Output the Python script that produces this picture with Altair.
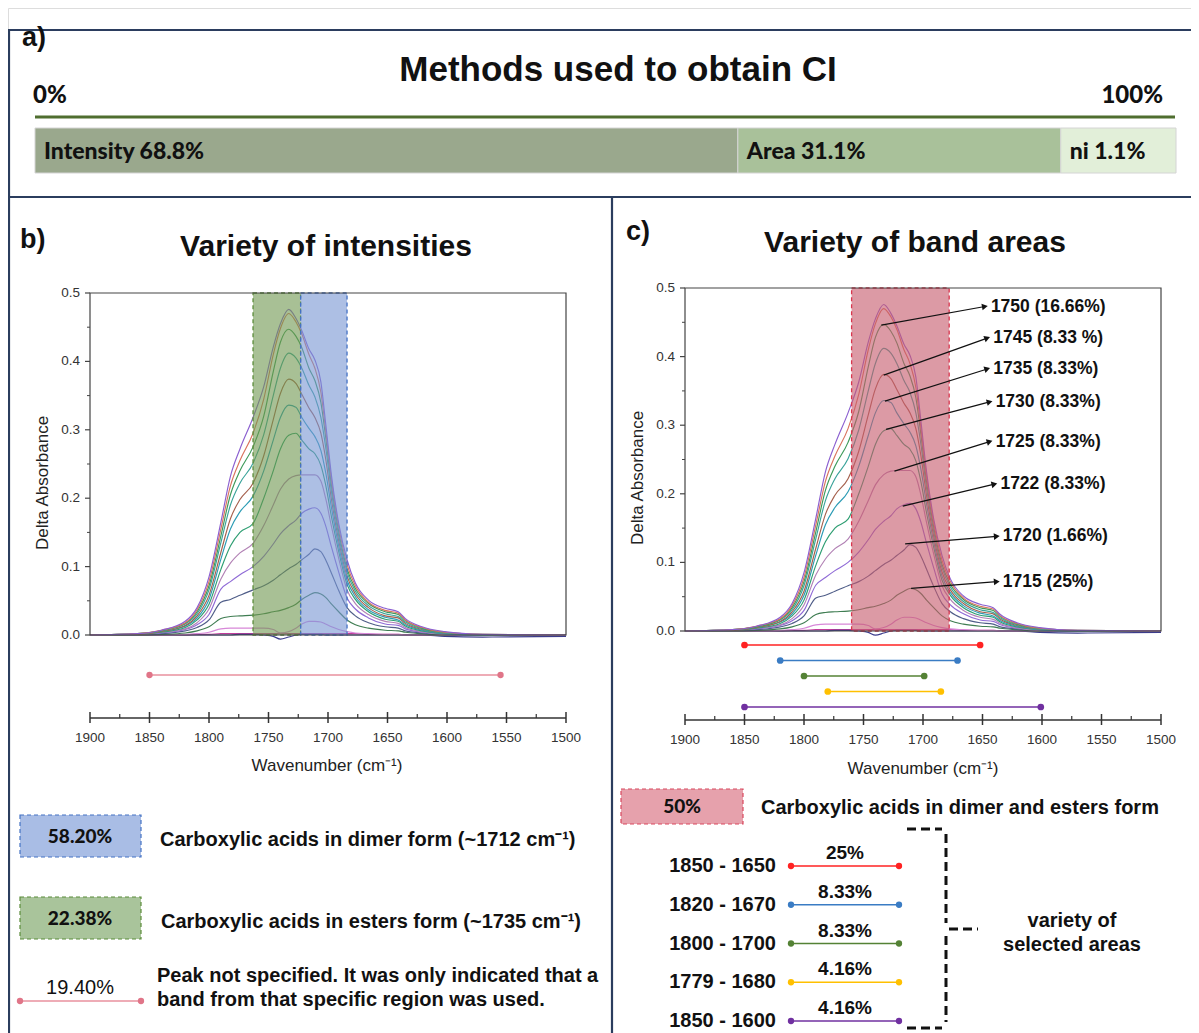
import math
import altair as alt
import pandas as pd

# ---------------- data ----------------
# panel a: methods used to obtain CI
methods = ["Intensity", "Area", "ni"]
method_labels = ["Intensity 68.8%", "Area 31.1%", "ni 1.1%"]
method_share_drawn = [61.6, 28.3, 10.1]          # segment widths as drawn in the picture
method_colors = ["#9AA88D", "#A9C19A", "#E2EFD9"]

# spectra (Delta absorbance vs wavenumber)
wavenumbers = [1900, 1860, 1840, 1820, 1810, 1800, 1790, 1782, 1774, 1763, 1754, 1746, 1740, 1733, 1727, 1722,
               1716, 1711, 1706, 1702, 1697, 1691, 1684, 1677, 1666, 1652, 1641, 1635, 1621, 1602, 1570, 1500]
spec_01 = [0, .002, .007, .020, .040, .085, .165, .232, .272, .318, .363, .421, .455, .476, .463, .445,
           .418, .402, .370, .310, .232, .163, .110, .076, .051, .039, .034, .024, .012, .005, .001, 0]
spec_02 = [0, .002, .007, .018, .037, .078, .155, .218, .255, .295, .345, .410, .448, .470, .458, .440,
           .410, .390, .355, .300, .225, .158, .103, .072, .048, .036, .032, .022, .011, .004, .001, 0]
spec_03 = [0, .002, .006, .017, .034, .072, .145, .205, .240, .275, .320, .385, .428, .447, .437, .420,
           .390, .372, .340, .290, .218, .152, .097, .068, .046, .034, .030, .021, .010, .004, .001, 0]
spec_04 = [0, .002, .006, .016, .031, .066, .135, .190, .222, .251, .293, .350, .390, .412, .405, .390,
           .365, .348, .318, .275, .208, .145, .092, .064, .043, .031, .027, .019, .009, .003, 0, 0]
spec_05 = [0, .001, .005, .014, .028, .058, .121, .170, .198, .222, .262, .315, .353, .374, .368, .352,
           .332, .318, .295, .258, .197, .138, .086, .060, .040, .028, .025, .017, .008, .003, 0, 0]
spec_06 = [0, .001, .005, .013, .025, .052, .111, .155, .180, .203, .240, .285, .318, .336, .333, .318,
           .302, .290, .270, .238, .185, .130, .080, .056, .037, .026, .022, .015, .007, .002, 0, 0]
spec_07 = [0, .001, .004, .011, .022, .045, .096, .130, .150, .163, .200, .240, .272, .292, .295, .285,
           .272, .265, .248, .220, .172, .122, .074, .052, .034, .023, .020, .013, .006, .002, 0, 0]
spec_08 = [0, .001, .004, .009, .018, .038, .082, .105, .120, .134, .160, .190, .213, .228, .233, .234,
           .234, .234, .225, .200, .158, .112, .066, .046, .030, .020, .017, .011, .005, .001, 0, 0]
spec_09 = [0, .001, .003, .008, .015, .030, .067, .078, .088, .100, .115, .133, .148, .160, .168, .178,
           .184, .186, .178, .160, .128, .092, .054, .038, .025, .016, .014, .009, .004, .001, 0, 0]
spec_10 = [0, .001, .002, .006, .011, .022, .048, .052, .058, .066, .072, .080, .088, .097, .103, .110,
           .118, .126, .122, .110, .090, .065, .040, .028, .018, .012, .010, .006, .003, .001, 0, 0]
spec_11 = [0, 0, .001, .003, .006, .012, .024, .027, .028, .029, .031, .034, .036, .040, .045, .052,
           .058, .062, .060, .055, .045, .034, .022, .015, .010, .007, .006, .004, .002, 0, 0, 0]
spec_12 = [0, 0, 0, .001, .002, .004, .009, .010, .010, .010, .010, .008, .003, .005, .010, .016,
           .020, .020, .019, .016, .012, .008, .005, .003, .002, .001, .001, 0, 0, 0, 0, 0]
spec_13 = [0, 0, 0, 0, 0, 0, 0, 0, .001, .001, 0, -.002, -.006, -.003, 0, .001,
           .001, .001, .001, 0, 0, 0, 0, 0, 0, 0, 0, 0, 0, -.002, -.003, -.002]
spec_14 = [0, 0, 0, 0, .001, .001, .002, .002, .002, .002, .002, .002, .002, .002, .002, .002,
           .002, .002, .002, .002, .002, .002, .002, .002, .001, .001, .001, 0, 0, 0, 0, 0]
spectra_values = [spec_01, spec_02, spec_03, spec_04, spec_05, spec_06, spec_07,
                  spec_08, spec_09, spec_10, spec_11, spec_12, spec_13, spec_14]
spectra_colors = ["#8B5FD0", "#D9735E", "#3E9A5A", "#3AA39A", "#A5604D", "#2C9CB5", "#2E9E72",
                  "#B282B5", "#8F6AD6", "#4F5D88", "#3F7D52", "#D787D8", "#3C3C8C", "#C23C9C"]

# panel b: highlighted bands
b_band_start = [1763, 1723]
b_band_end = [1723, 1684]
b_band_fill = ["#6E964F", "#7695D2"]
b_band_stroke = ["#5B8C3A", "#4472C4"]
b_range_start = [1850]
b_range_end = [1555]

# panel c: highlighted band, ranges, annotations
c_band_start = [1760]
c_band_end = [1678]
range_start = [1850, 1820, 1800, 1780, 1850]
range_end = [1652, 1671, 1699, 1685, 1601]
range_colors = ["#FF2222", "#3A7CC4", "#548235", "#FFC000", "#7030A0"]
range_labels = ["1850 - 1650", "1820 - 1670", "1800 - 1700", "1779 - 1680", "1850 - 1600"]
range_pcts = ["25%", "8.33%", "8.33%", "4.16%", "4.16%"]

arrow_w0 = [1735, 1733, 1732, 1731, 1724, 1717, 1715, 1710]
arrow_a0 = [0.446, 0.373, 0.335, 0.294, 0.233, 0.182, 0.127, 0.062]
arrow_w1 = [1648, 1646, 1646, 1644, 1644, 1640, 1638, 1638]
arrow_a1 = [0.473, 0.427, 0.382, 0.334, 0.276, 0.214, 0.138, 0.072]
arrow_labels = ["1750 (16.66%)", "1745 (8.33 %)", "1735 (8.33%)", "1730 (8.33%)",
                "1725 (8.33%)", "1722 (8.33%)", "1720 (1.66%)", "1715 (25%)"]

y_major = [0.0, 0.1, 0.2, 0.3, 0.4, 0.5]
y_minor = [0.05, 0.15, 0.25, 0.35, 0.45]
x_major = [1900, 1850, 1800, 1750, 1700, 1650, 1600, 1550, 1500]
x_minor = [1875, 1825, 1775, 1725, 1675, 1625, 1575, 1525]

FONT = "Liberation Sans"
CAL = "Lato"
CALW = 900
NAVY = "#2B3D5E"
W, H = 1183, 1025

# ---------------- helpers ----------------
def px(field):
    return alt.X(field, scale=None, axis=None)

def py(field):
    return alt.Y(field, scale=None, axis=None)

def texts(rows, size, weight="bold", align="left", font=FONT, color="#111", angle=0):
    df = pd.DataFrame(rows, columns=["px", "py", "txt"])
    return alt.Chart(df).mark_text(fontSize=size, fontWeight=weight, align=align, baseline="middle",
                                   font=font, color=color, angle=angle).encode(
        x=px("px:Q"), y=py("py:Q"), text="txt:N")

def segs(rows, color, width, dash=None):
    df = pd.DataFrame(rows, columns=["x1", "y1", "x2", "y2"])
    kw = dict(color=color, strokeWidth=width)
    if dash:
        kw["strokeDash"] = dash
    return alt.Chart(df).mark_rule(**kw).encode(x=px("x1:Q"), y=py("y1:Q"), x2="x2:Q", y2="y2:Q")

def boxes(rows, fill, stroke, dash):
    df = pd.DataFrame(rows, columns=["x1", "y1", "x2", "y2"])
    return alt.Chart(df).mark_rect(fill=fill, stroke=stroke, strokeWidth=1.2, strokeDash=dash).encode(
        x=px("x1:Q"), y=py("y1:Q"), x2="x2:Q", y2="y2:Q")

def xsc(p):
    return alt.Scale(domain=[1900, 1500], range=[p["x0"], p["x1"]], nice=False, zero=False)

def ysc(p):
    return alt.Scale(domain=[0, 0.5], range=[p["y0"], p["y1"]], nice=False, zero=False)

PB = dict(x0=82, x1=558, y0=627, y1=285, axis_y=710, lab_x=72, title_x=319, title_y=758, ytitle_x=35, ytitle_y=475)
PC = dict(x0=677, x1=1153, y0=623, y1=280, axis_y=712, lab_x=667, title_x=915, title_y=761, ytitle_x=630, ytitle_y=470)

rows = []
n = len(spectra_values)
for i in reversed(range(n)):
    for w, a in zip(wavenumbers, spectra_values[i]):
        rows.append({"w": w, "a": a, "curve": f"k{n - 1 - i:02d}", "color": spectra_colors[i]})
spec_df = pd.DataFrame(rows)

def spectrum_plot(p):
    layers = []
    layers.append(alt.Chart(spec_df).mark_line(strokeWidth=1.15, interpolate="monotone").encode(
        x=alt.X("w:Q", scale=xsc(p), axis=None),
        y=alt.Y("a:Q", scale=ysc(p), axis=None),
        detail="curve:N",
        order=alt.Order("w:Q", sort="descending"),
        color=alt.Color("color:N", scale=None)))
    frame = pd.DataFrame({"w0": [1900], "w1": [1500], "a0": [0.0], "a1": [0.5]})
    layers.append(alt.Chart(frame).mark_rect(fillOpacity=0, stroke="#444", strokeWidth=1.2).encode(
        x=alt.X("w0:Q", scale=xsc(p), axis=None), x2="w1:Q",
        y=alt.Y("a0:Q", scale=ysc(p), axis=None), y2="a1:Q"))
    ymaj = pd.DataFrame({"v": y_major, "lab": [f"{v:.1f}" for v in y_major]})
    ymin = pd.DataFrame({"v": y_minor})
    layers.append(alt.Chart(ymaj).mark_rule(color="#444", strokeWidth=1.2).encode(
        y=alt.Y("v:Q", scale=ysc(p), axis=None), x=alt.value(p["x0"] - 5), x2=alt.value(p["x0"])))
    layers.append(alt.Chart(ymin).mark_rule(color="#444", strokeWidth=1).encode(
        y=alt.Y("v:Q", scale=ysc(p), axis=None), x=alt.value(p["x0"] - 3), x2=alt.value(p["x0"])))
    layers.append(alt.Chart(ymaj).mark_text(fontSize=13.5, font=FONT, color="#333", align="right",
                                            baseline="middle").encode(
        y=alt.Y("v:Q", scale=ysc(p), axis=None), x=alt.value(p["lab_x"]), text="lab:N"))
    # detached x axis
    axis_df = pd.DataFrame({"w0": [1900], "w1": [1500]})
    layers.append(alt.Chart(axis_df).mark_rule(color="#333", strokeWidth=1.5).encode(
        x=alt.X("w0:Q", scale=xsc(p), axis=None), x2="w1:Q", y=alt.value(p["axis_y"])))
    xmaj = pd.DataFrame({"w": x_major, "lab": [str(v) for v in x_major]})
    xmin = pd.DataFrame({"w": x_minor})
    layers.append(alt.Chart(xmaj).mark_rule(color="#333", strokeWidth=1.5).encode(
        x=alt.X("w:Q", scale=xsc(p), axis=None), y=alt.value(p["axis_y"] - 6), y2=alt.value(p["axis_y"] + 5)))
    layers.append(alt.Chart(xmin).mark_rule(color="#333", strokeWidth=1.2).encode(
        x=alt.X("w:Q", scale=xsc(p), axis=None), y=alt.value(p["axis_y"] - 4), y2=alt.value(p["axis_y"])))
    layers.append(alt.Chart(xmaj).mark_text(fontSize=13.5, font=FONT, color="#333", baseline="middle").encode(
        x=alt.X("w:Q", scale=xsc(p), axis=None), y=alt.value(p["axis_y"] + 20), text="lab:N"))
    layers.append(texts([(p["title_x"], p["title_y"], "Wavenumber (cm\u207b\u00b9)")], 17, weight="normal",
                        align="center", color="#222"))
    layers.append(texts([(p["ytitle_x"], p["ytitle_y"], "Delta Absorbance")], 17, weight="normal",
                        align="center", color="#222", angle=270))
    return layers

layers = []

# ---------------- panel frames ----------------
layers.append(segs([(0, 22, W, 22), (1, 22, 1, H), (0, 189, W, 189), (604, 189, 604, H)], NAVY, 2.2))

# ---------------- panel a ----------------
bar_df = pd.DataFrame({"method": methods, "label": method_labels, "share": method_share_drawn,
                       "color": method_colors})
bar_df["end"] = bar_df["share"].cumsum()
bar_df["start"] = bar_df["end"] - bar_df["share"]
xa = alt.Scale(domain=[0, 100], range=[27, 1168], nice=False, zero=False)
layers.append(alt.Chart(bar_df).mark_rect(stroke="#D4D4D4", strokeWidth=1).encode(
    x=alt.X("start:Q", scale=xa, axis=None), x2="end:Q",
    y=alt.value(120), y2=alt.value(165), color=alt.Color("color:N", scale=None)))
layers.append(alt.Chart(bar_df).mark_text(align="left", baseline="middle", dx=9, font=CAL, fontSize=23,
                                          fontWeight=CALW, color="#111").encode(
    x=alt.X("start:Q", scale=xa, axis=None), y=alt.value(144), text="label:N"))
layers.append(segs([(27, 109, 1167, 109)], "#4F6E2F", 3.2))
layers.append(texts([(14, 30, "a)")], 27))
layers.append(texts([(610, 62, "Methods used to obtain CI")], 35, align="center"))
layers.append(texts([(25, 88, "0%")], 24, font=CAL, weight=CALW))
layers.append(texts([(1155, 88, "100%")], 24, font=CAL, align="right", weight=CALW))

# ---------------- panel b ----------------
layers.append(texts([(12, 232, "b)")], 27))
layers.append(texts([(318, 239, "Variety of intensities")], 30, align="center"))
spec_b = spectrum_plot(PB)
layers.append(spec_b[0])
band_b = pd.DataFrame({"w0": b_band_start, "w1": b_band_end, "a0": [0.0, 0.0], "a1": [0.5, 0.5],
                       "fill": b_band_fill, "stroke": b_band_stroke})
layers.append(alt.Chart(band_b).mark_rect(fillOpacity=0.6, strokeDash=[4, 3], strokeWidth=1.3).encode(
    x=alt.X("w0:Q", scale=xsc(PB), axis=None), x2="w1:Q",
    y=alt.Y("a0:Q", scale=ysc(PB), axis=None), y2="a1:Q",
    color=alt.Color("fill:N", scale=None), stroke=alt.Stroke("stroke:N", scale=None)))
layers.extend(spec_b[1:])
rng_b = pd.DataFrame({"w0": b_range_start, "w1": b_range_end})
layers.append(alt.Chart(rng_b).mark_rule(color="#E8909E", strokeWidth=1.5).encode(
    x=alt.X("w0:Q", scale=xsc(PB), axis=None), x2="w1:Q", y=alt.value(667)))
for f in ["w0", "w1"]:
    layers.append(alt.Chart(rng_b).mark_circle(color="#E07588", size=40, opacity=1).encode(
        x=alt.X(f"{f}:Q", scale=xsc(PB), axis=None), y=alt.value(667)))

# legend b
layers.append(boxes([(12, 807, 133, 849)], "#A9BDE5", "#4472C4", [4, 3]))
layers.append(boxes([(12, 889, 133, 931)], "#A9C49B", "#5B8C3A", [4, 3]))
layers.append(texts([(72, 829, "58.20%"), (72, 911, "22.38%")], 19, font=CAL, align="center", weight=CALW))
layers.append(texts([(72, 980, "19.40%")], 20, weight="normal", align="center"))
layers.append(segs([(12, 993, 133, 993)], "#E8909E", 1.5))
layers.append(alt.Chart(pd.DataFrame({"x": [12, 133], "y": [993, 993]})).mark_circle(
    color="#E07588", size=40, opacity=1).encode(x=px("x:Q"), y=py("y:Q")))
layers.append(texts([(152, 832, "Carboxylic acids in dimer form (~1712 cm\u207b\u00b9)"),
                     (153, 914, "Carboxylic acids in esters form (~1735 cm\u207b\u00b9)"),
                     (149, 968, "Peak not specified. It was only indicated that a"),
                     (149, 992, "band from that specific region was used.")], 20))

# ---------------- panel c ----------------
layers.append(texts([(618, 224, "c)")], 27))
layers.append(texts([(907, 235, "Variety of band areas")], 30, align="center"))
spec_c = spectrum_plot(PC)
layers.append(spec_c[0])
band_c = pd.DataFrame({"w0": c_band_start, "w1": c_band_end, "a0": [0.0], "a1": [0.5]})
layers.append(alt.Chart(band_c).mark_rect(fill="#C65C6D", fillOpacity=0.62, stroke="#D9364E",
                                          strokeDash=[4, 3], strokeWidth=1.3).encode(
    x=alt.X("w0:Q", scale=xsc(PC), axis=None), x2="w1:Q",
    y=alt.Y("a0:Q", scale=ysc(PC), axis=None), y2="a1:Q"))
layers.extend(spec_c[1:])

rng_df = pd.DataFrame({"row": list(range(5)), "w0": range_start, "w1": range_end, "color": range_colors,
                       "label": range_labels, "pct": range_pcts})
yrow_c = alt.Scale(domain=[0, 4], range=[637, 699], nice=False, zero=False)
layers.append(alt.Chart(rng_df).mark_rule(strokeWidth=1.5).encode(
    x=alt.X("w0:Q", scale=xsc(PC), axis=None), x2="w1:Q",
    y=alt.Y("row:Q", scale=yrow_c, axis=None), color=alt.Color("color:N", scale=None)))
for f in ["w0", "w1"]:
    layers.append(alt.Chart(rng_df).mark_circle(size=45, opacity=1).encode(
        x=alt.X(f"{f}:Q", scale=xsc(PC), axis=None),
        y=alt.Y("row:Q", scale=yrow_c, axis=None), color=alt.Color("color:N", scale=None)))

# arrows
arr = pd.DataFrame({"w0": arrow_w0, "a0": arrow_a0, "w1": arrow_w1, "a1": arrow_a1, "label": arrow_labels})
sx = (PC["x1"] - PC["x0"]) / 400.0
sy = (PC["y0"] - PC["y1"]) / 0.5
arr["angle"] = [math.degrees(math.atan2(-(a1 - a0) * sy, (w0 - w1) * sx)) % 360
                for w0, a0, w1, a1 in zip(arrow_w0, arrow_a0, arrow_w1, arrow_a1)]
layers.append(alt.Chart(arr).mark_rule(color="#111", strokeWidth=1.2).encode(
    x=alt.X("w0:Q", scale=xsc(PC), axis=None), x2="w1:Q",
    y=alt.Y("a0:Q", scale=ysc(PC), axis=None), y2="a1:Q"))
layers.append(alt.Chart(arr).mark_point(shape="triangle-right", filled=True, color="#111", size=45,
                                        opacity=1).encode(
    x=alt.X("w1:Q", scale=xsc(PC), axis=None),
    y=alt.Y("a1:Q", scale=ysc(PC), axis=None), angle=alt.Angle("angle:Q", scale=None)))
layers.append(alt.Chart(arr).mark_text(align="left", baseline="middle", dx=6, font=FONT, fontSize=17.5,
                                       fontWeight="bold", color="#111").encode(
    x=alt.X("w1:Q", scale=xsc(PC), axis=None),
    y=alt.Y("a1:Q", scale=ysc(PC), axis=None), text="label:N"))

# legend c
layers.append(boxes([(613, 781, 735, 816)], "#E6A1AC", "#D9485E", [4, 3]))
layers.append(texts([(674, 799, "50%")], 19, font=CAL, align="center", weight=CALW))
layers.append(texts([(753, 800, "Carboxylic acids in dimer and esters form")], 20))
yrow_l = alt.Scale(domain=[0, 4], range=[858, 1013], nice=False, zero=False)
layers.append(alt.Chart(rng_df).mark_rule(strokeWidth=1.5).encode(
    x=alt.value(783), x2=alt.value(891),
    y=alt.Y("row:Q", scale=yrow_l, axis=None), color=alt.Color("color:N", scale=None)))
for xv in [783, 891]:
    layers.append(alt.Chart(rng_df).mark_circle(size=40, opacity=1).encode(
        x=alt.value(xv), y=alt.Y("row:Q", scale=yrow_l, axis=None), color=alt.Color("color:N", scale=None)))
layers.append(alt.Chart(rng_df).mark_text(align="right", baseline="middle", font=FONT, fontSize=20,
                                          fontWeight="bold", color="#111").encode(
    x=alt.value(768), y=alt.Y("row:Q", scale=yrow_l, axis=None), text="label:N"))
layers.append(alt.Chart(rng_df).mark_text(align="center", baseline="middle", dy=-13, font=FONT, fontSize=19,
                                          fontWeight="bold", color="#111").encode(
    x=alt.value(837), y=alt.Y("row:Q", scale=yrow_l, axis=None), text="pct:N"))
layers.append(segs([(899, 821, 934, 821), (938, 826, 938, 915), (941, 921, 970, 921),
                    (938, 928, 938, 1014), (899, 1020, 934, 1020)], "#111", 3, dash=[9, 5]))
layers.append(texts([(1064, 913, "variety of"), (1064, 937, "selected areas")], 20, align="center"))

chart = alt.layer(*layers).resolve_scale(x="independent", y="independent").properties(
    width=W, height=H, autosize=alt.AutoSizeParams(type="none"), padding=0
).configure_view(stroke=None).configure(background="white")

chart.save("out.html", embed_options={"renderer": "svg", "actions": False})
